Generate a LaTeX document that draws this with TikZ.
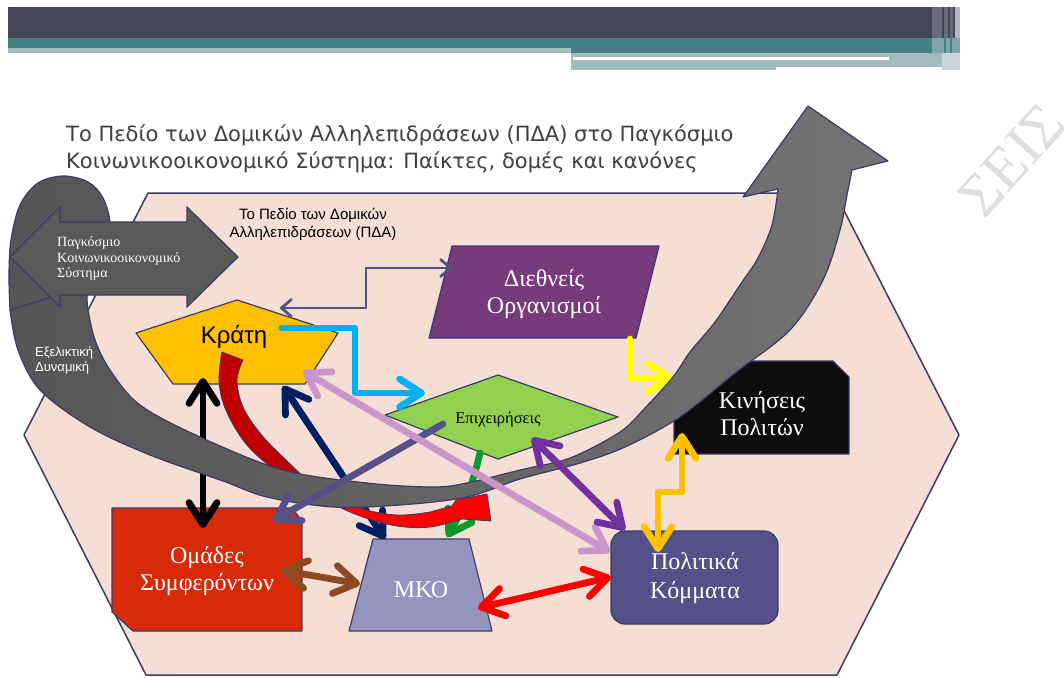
\documentclass[tikz,border=0pt]{standalone}
\usepackage{fontspec}
\setmainfont{Liberation Serif}
\setsansfont{Liberation Sans}
\newfontfamily\titlefont{DejaVu Sans}
\usetikzlibrary{arrows.meta}
\definecolor{bandDark}{HTML}{434456}
\definecolor{bandTeal}{HTML}{457E83}
\definecolor{bandLight}{HTML}{A3BDBF}
\definecolor{stripeA}{HTML}{6C6C7E}
\definecolor{stripeB}{HTML}{B8B8C2}
\definecolor{stripeC}{HTML}{7FA5A8}
\definecolor{stripeD}{HTML}{C8D8DA}
\definecolor{titlec}{HTML}{404040}
\definecolor{wmc}{HTML}{DEDEDE}
\definecolor{hexc}{HTML}{F5DFD4}
\definecolor{edgec}{HTML}{3B3B68}
\definecolor{krc}{HTML}{FFC000}
\definecolor{dic}{HTML}{773A7B}
\definecolor{epc}{HTML}{92D050}
\definecolor{kic}{HTML}{0D0D0D}
\definecolor{poc}{HTML}{545088}
\definecolor{mkc}{HTML}{9494BE}
\definecolor{omc}{HTML}{D62A09}
\definecolor{gsc}{HTML}{595959}
\definecolor{bandL}{HTML}{555555}
\definecolor{bandR}{HTML}{737373}
\definecolor{slatec}{HTML}{545088}
\definecolor{cyanc}{HTML}{00B0F0}
\definecolor{navyc}{HTML}{002060}
\definecolor{lavc}{HTML}{C896CB}
\definecolor{purc}{HTML}{7030A0}
\definecolor{brownc}{HTML}{8C4A22}
\definecolor{greenc}{HTML}{0A9A28}
\definecolor{redc}{HTML}{FF0000}
\definecolor{dredc}{HTML}{C00000}
\definecolor{yelc}{HTML}{FFFF00}
\definecolor{orc}{HTML}{FFC000}
\tikzset{
  shp/.style={draw=edgec, line width=1.2pt, line join=round},
  conn/.style={line width=6.8pt, line cap=round, line join=round},
  oneway/.style={conn, -{Straight Barb[length=22pt,width=28pt,round]}},
  twoway/.style={conn, {Straight Barb[length=22pt,width=28pt,round]}-{Straight Barb[length=22pt,width=28pt,round]}},
  thinway/.style={line width=2.8pt, line join=round, {Straight Barb[length=10pt,width=17pt,round]}-{Straight Barb[length=10pt,width=17pt,round]}},
  wtext/.style={text=white, font=\fontsize{24}{27}\selectfont, align=center},
}
\begin{document}
\begin{tikzpicture}[x=1pt,y=-1pt]
\useasboundingbox (0,0) rectangle (1064,677);
\fill[white] (0,0) rectangle (1064,677);
% ---------- banner
\fill[bandDark] (8,7) rectangle (932,38);
\fill[bandTeal] (8,38) rectangle (932,48);
\fill[bandTeal] (571,48) rectangle (932,53);
\fill[bandLight] (8,48) rectangle (571,53);
\fill[bandLight] (571,53) rectangle (942,70);
\fill[white] (573,57) rectangle (889,60);
\fill[white] (776,67) rectangle (942,70);
\fill[stripeA] (932,7) rectangle (960,38);
\fill[bandDark] (942,7) rectangle (944,38);
\fill[bandDark] (948,7) rectangle (950,38);
\fill[bandDark] (953,7) rectangle (955,38);
\fill[stripeB] (955,7) rectangle (960,38);
\fill[stripeC] (932,38) rectangle (960,53);
\fill[bandTeal] (944,38) rectangle (946,53);
\fill[bandTeal] (950,38) rectangle (952,53);
\fill[stripeD] (942,53) rectangle (960,70);
% ---------- title and watermark
\node[anchor=base west, inner sep=0pt, text=titlec, font=\titlefont\fontsize{21}{24}\selectfont] (title1) at (66,141) {Το Πεδίο των Δομικών Αλληλεπιδράσεων (ΠΔΑ) στο Παγκόσμιο};
\node[anchor=base west, inner sep=0pt, text=titlec, font=\titlefont\fontsize{21}{24}\selectfont] (title2) at (66,168) {Κοινωνικοοικονομικό Σύστημα: Παίκτες, δομές και κανόνες};
\node[rotate=48, text=wmc, font=\fontsize{60}{60}\selectfont, inner sep=0pt] (wm) at (1012,160) {ΣΕΙΣ};
% ---------- hexagon field
\draw[fill=hexc, draw=edgec, line width=1.5pt, line join=round] (148,193) -- (835,193) -- (959,435) -- (837,675) -- (146,675) -- (24,435) -- cycle;
% ---------- actor shapes
\path[shp, fill=dic] (452,246) -- (659,246) -- (636,338) -- (429,338) -- cycle;
\path[shp, fill=krc] (237,300) -- (338,333) -- (305,384) -- (173,384) -- (136,333) -- cycle;
\path[shp, fill=epc] (498,375) -- (618,417) -- (498,459) -- (385,415) -- cycle;
\path[shp, fill=kic] (690,361) -- (833,361) -- (849,377) -- (849,454) -- (674,454) -- (674,377) -- cycle;
\path[shp, fill=poc, rounded corners=14pt] (611,531) rectangle (778,624);
\path[shp, fill=mkc] (373,539) -- (469,539) -- (492,631) -- (349,631) -- cycle;
\path[shp, fill=omc] (112,508) -- (292,508) -- (302,521) -- (302,631) -- (133,631) -- (112,612) -- cycle;
% ---------- node texts
\node[font=\sffamily\fontsize{24}{28}\selectfont] (kr) at (234,337) {Κράτη};
\node[wtext] (di) at (544,294) {Διεθνείς\\Οργανισμοί};
\node[font=\fontsize{16.5}{19}\selectfont] (ep) at (498,419) {Επιχειρήσεις};
\node[wtext] (ki) at (762,414) {Κινήσεις\\Πολιτών};
\node[wtext, font=\fontsize{24}{29}\selectfont] (po) at (695,578) {Πολιτικά\\Κόμματα};
\node[wtext] (mk) at (421,590) {ΜΚΟ};
\node[wtext] (om) at (207,571) {Ομάδες\\Συμφερόντων};
% ---------- connector end points
\coordinate (krTopR) at (280,308);
\coordinate (diL) at (452,268);
\coordinate (krCy) at (282,328);
\coordinate (epTL) at (425,393);
\coordinate (krB) at (203,378);
\coordinate (omT) at (203,528);
\coordinate (diB) at (630,339);
\coordinate (kiL) at (674,378);
\coordinate (epB) at (480,453);
\coordinate (mkTg) at (447,537);
\coordinate (krBR) at (283,386);
\coordinate (mkTL) at (385,539);
% ---------- connectors below the band
\draw[thinway, slatec] (krTopR) -- (366,308) -- (366,268) -- (diL);
\draw[oneway, cyanc] (krCy) -- (355,328) -- (355,393) -- (epTL);
\draw[oneway, yelc] (diB) -- (630,378) -- (kiL);
\draw[twoway, black] (krB) -- (omT);
\draw[oneway, greenc] (epB) .. controls (474,478) and (466,505) .. (mkTg);
\draw[twoway, navyc] (krBR) -- (mkTL);
% red curved block arrow
\def\redpath{plot[smooth, tension=0.6] coordinates {(222,352) (219,380) (225,408) (243,440) (267,464) (300,486) (335,505) (363,517) (397,526) (430,527) (462,519)} -- (491,521) -- (487,494) -- (456,500) -- (452,506) -- plot[smooth, tension=0.6] coordinates {(430,512) (397,515) (360,508) (320,490) (283,457) (260,433) (243,407) (237,380) (243,360)} -- cycle}
\begin{scope}
\clip (0,0) rectangle (320,677);
\fill[dredc] \redpath;
\end{scope}
\begin{scope}
\clip (320,0) rectangle (1064,677);
\fill[redc] \redpath;
\end{scope}
\draw[edgec, line width=0.8pt, line join=round] \redpath;
% ---------- evolutionary dynamics band
\path[draw=edgec, line width=1.2pt, line join=round, left color=bandL, right color=bandR]
  plot[smooth, tension=0.55] coordinates {(10,310) (18,350) (40,390) (90,427) (150,455) (223,481) (267,497) (333,507) (400,505) (467,497) (520,479) (580,463) (625,447) (680,417) (735,373) (790,330) (823,280) (840,230) (847,195) (852,170)}
  -- (888,161) -- (808,106) -- (743,197) --
  plot[smooth, tension=0.55] coordinates {(778,189) (772,225) (758,258) (740,285) (715,322) (690,352) (673,377) (645,408) (620,432) (570,458) (520,470) (467,483) (433,487) (367,483) (283,470) (200,437) (140,405) (110,370) (95,340) (88,310)}
  -- plot[smooth, tension=0.55] coordinates {(88,310) (88,290) (102,258) (110,225) (103,198) (88,182) (63,176) (38,183) (20,205) (11,240) (9,275) (10,310)} -- cycle;
\draw[edgec, line width=1.2pt] (10,310) -- (55,296);
% ---------- connectors above the band
\coordinate (epSl) at (443,424);
\coordinate (omTR) at (273,521);
\coordinate (krR) at (303,371);
\coordinate (poTL) at (610,552);
\coordinate (epBR) at (532,438);
\coordinate (poT) at (625,530);
\draw[oneway, slatec] (epSl) -- (omTR);
\draw[twoway, lavc] (krR) -- (poTL);
\draw[twoway, purc] (epBR) -- (poT);
\coordinate (mkR) at (478,608);
\coordinate (poL) at (611,577);
\coordinate (omR) at (281,570);
\coordinate (mkL) at (360,584);
\coordinate (kiB) at (682,433);
\coordinate (poTo) at (658,552);
\draw[twoway, redc] (mkR) -- (poL);
\draw[twoway, brownc] (omR) -- (mkL);
\draw[twoway, orc] (kiB) -- (682,492) -- (658,492) -- (poTo);
% ---------- global system double arrow
\path[shp, fill=gsc] (10,257) -- (60,207) -- (60,222) -- (187,222) -- (187,207) -- (238,257) -- (187,307) -- (187,295) -- (60,295) -- (60,307) -- cycle;
\node[anchor=west, align=left, text=white, font=\fontsize{14}{15.5}\selectfont, inner sep=0pt] (gs) at (57,259) {Παγκόσμιο\\Κοινωνικοοικονομικό\\Σύστημα};
\node[align=center, font=\sffamily\fontsize{15}{18}\selectfont] (pda) at (313,224) {Το Πεδίο των Δομικών\\Αλληλεπιδράσεων (ΠΔΑ)};
\node[anchor=west, align=left, text=white, font=\sffamily\fontsize{13}{15}\selectfont, inner sep=0pt] (evo) at (35,360) {Εξελικτική\\Δυναμική};
\end{tikzpicture}
\end{document}
